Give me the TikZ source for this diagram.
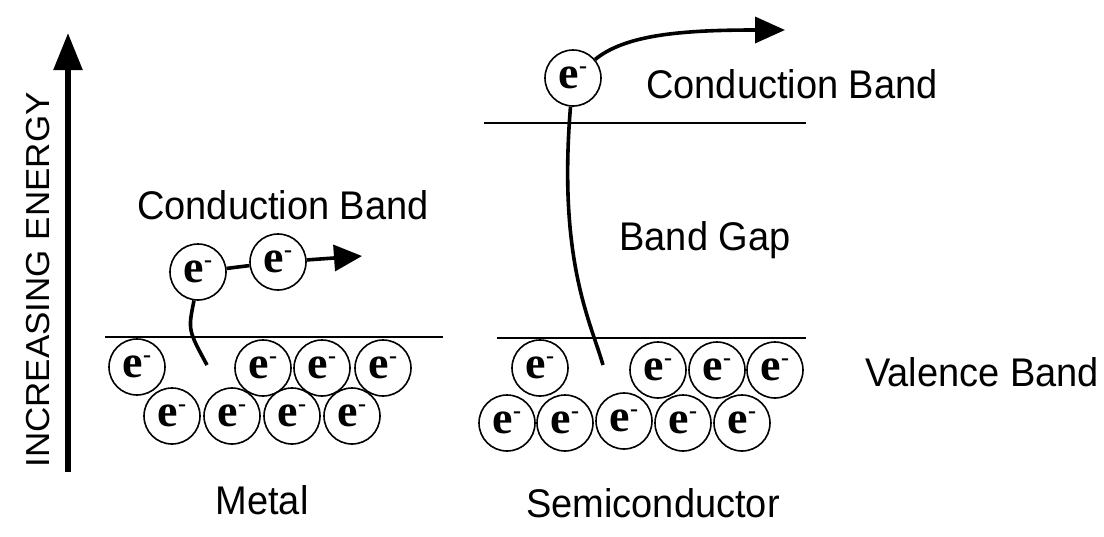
\documentclass[tikz,border=0pt]{standalone}
\usepackage{fontspec}
\setmainfont{Liberation Sans}
\newfontfamily\elecfont{Liberation Serif}
\usetikzlibrary{arrows.meta}
\tikzset{
	elec/.style={draw, circle, line width=1.6pt, minimum size=56pt, inner sep=0pt, fill=white},
	band/.style={line width=1.8pt},
	hop/.style={line width=3.6pt},
	lbl/.style={font=\fontsize{40}{44}\selectfont, inner sep=0pt, xscale=0.95}
}
\newcommand{\elec}{{\elecfont\fontsize{46}{46}\selectfont\bfseries e\raisebox{0.33em}{\fontsize{24}{24}\selectfont -}}}

\begin{document}
\begin{tikzpicture}[x=1pt, y=-1pt]
			%%%%% START %%%%%
			\useasboundingbox (0, 0) rectangle (1104, 536);
			
			% energy axis
			\coordinate (ebot) at (68, 472);
			\coordinate (etop) at (68, 33);
			\draw[line width=5.5pt, -{Triangle[length=37pt, width=28pt]}] (ebot) -- (etop);
			\node[lbl, rotate=90, font=\fontsize{35}{38}\selectfont] (energy) at (38, 280) {INCREASING ENERGY};
			
			% metal
			\coordinate (ml) at (105, 337);
			\coordinate (mr) at (443, 337);
			\draw[band] (ml) -- (mr);
			\node[lbl] (mcb) at (283, 205) {Conduction Band};
			
			\node[elec] (m1) at (137, 367) {\elec};
			\node[elec] (m2) at (263, 368) {\elec};
			\node[elec] (m3) at (322, 368) {\elec};
			\node[elec] (m4) at (383, 368) {\elec};
			\node[elec] (m5) at (172, 416) {\elec};
			\node[elec] (m6) at (232, 416) {\elec};
			\node[elec] (m7) at (292, 416) {\elec};
			\node[elec] (m8) at (352, 416) {\elec};
			
			\node[elec] (mt1) at (198, 272) {\elec};
			\node[elec] (mt2) at (278, 262) {\elec};
			\coordinate (mhole) at (207, 365);
			\coordinate (mtip) at (362, 256);
			\draw[hop] (mt1.262) .. controls (188, 330) .. (mhole);
			\draw[hop] (mt1) -- (mt2);
			\draw[hop, -{Triangle[length=28pt, width=26pt]}] (mt2) -- (mtip);
			
			\node[lbl] (metal) at (262, 500) {Metal};
			
			% semiconductor
			\coordinate (sl) at (497, 338);
			\coordinate (sr) at (806, 338);
			\draw[band] (sl) -- (sr);
			\coordinate (tl) at (484, 123);
			\coordinate (tr) at (806, 123);
			\draw[band] (tl) -- (tr);
			
			\node[elec] (s1) at (540, 368) {\elec};
			\node[elec] (s2) at (658, 370) {\elec};
			\node[elec] (s3) at (717, 370) {\elec};
			\node[elec] (s4) at (775, 370) {\elec};
			\node[elec] (s5) at (507, 423) {\elec};
			\node[elec] (s6) at (565, 423) {\elec};
			\node[elec] (s7) at (624, 421) {\elec};
			\node[elec] (s8) at (683, 423) {\elec};
			\node[elec] (s9) at (742, 423) {\elec};
			
			\node[elec] (st) at (573, 78) {\elec};
			\coordinate (shole) at (603, 365);
			\coordinate (stip) at (785, 30);
			\draw[hop] (st.265) .. controls (558, 260) and (590, 320) .. (shole);
			\draw[hop, -{Triangle[length=30pt, width=26pt]}] (st.40) .. controls (625, 35) and (680, 30) .. (stip);
			
			\node[lbl] (scb) at (792, 84) {Conduction Band};
			\node[lbl] (gap) at (705, 240) {Band Gap};
			\node[lbl] (vb) at (982, 372) {Valence Band};
			\node[lbl] (semi) at (653, 503) {Semiconductor};
			%%%%% END %%%%%
\end{tikzpicture}
\end{document}
